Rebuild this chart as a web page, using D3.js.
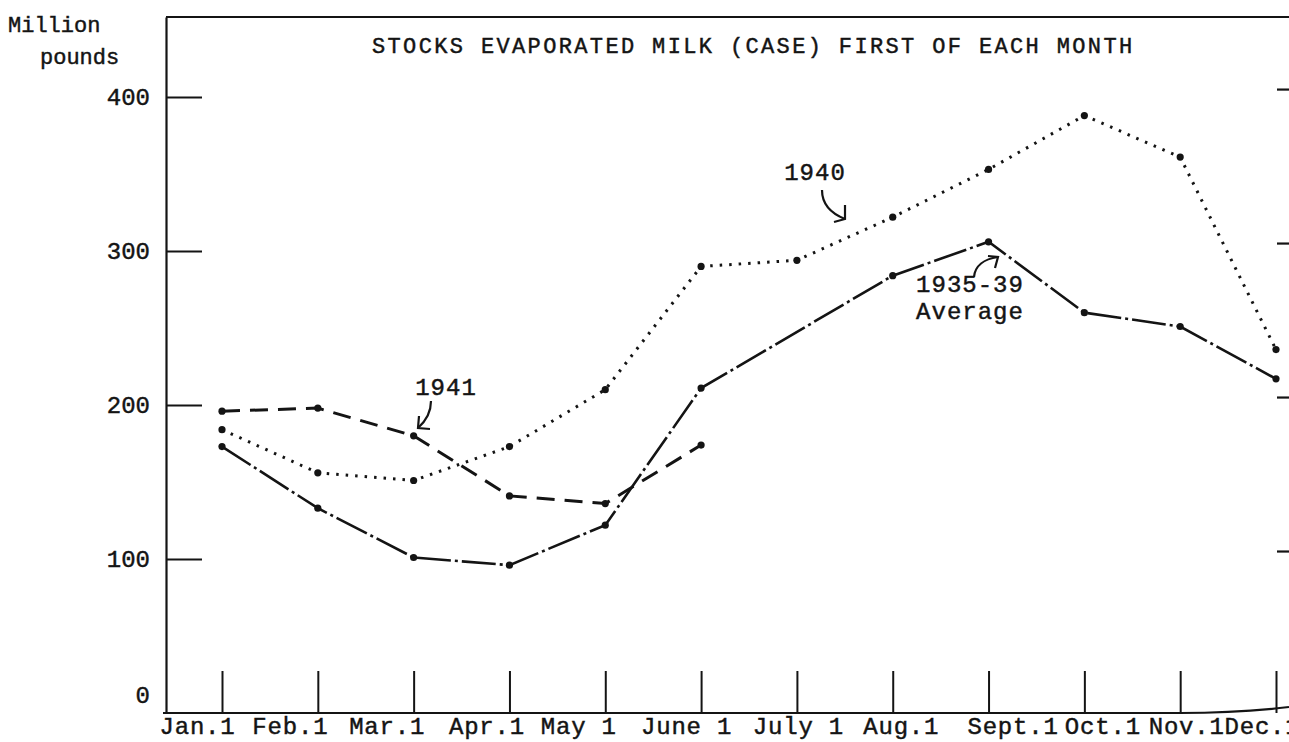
<!DOCTYPE html>
<html><head><meta charset="utf-8">
<script src="https://cdn.jsdelivr.net/npm/d3@7"></script>
<style>
html,body{margin:0;padding:0;background:#fff;}
svg{display:block;}
text{font-family:"Liberation Mono","Courier New",monospace;fill:#141414;stroke:#141414;stroke-width:0.45px;}
</style></head><body>
<svg id="chart" width="1289" height="742"></svg>
<script>
// ---- data ----
const months = ["Jan.1","Feb.1","Mar.1","Apr.1","May 1","June 1","July 1","Aug.1","Sept.1","Oct.1","Nov.1","Dec.1"];
const yTickValues = [0, 100, 200, 300, 400];
const stocks1940 = [184, 156, 151, 173, 210, 290, 294, 322, 353, 388, 361, 236];
const stocks1941 = [196, 198, 180, 141, 136, 174];
const average1935_39 = [173, 133, 101, 96, 122, 211, null, 284, 306, 260, 251, 217];
const titleText = "STOCKS EVAPORATED MILK (CASE) FIRST OF EACH MONTH";
const yLabelLines = ["Million", "pounds"];

// ---- layout (typewritten month labels are not centred on their ticks) ----
const monthLabelNudge = [-25, -28, -27, -23, -27, -15, 1, 8, 24, 18, 6, -14];

// ---- chart ----
const ink = "#141414";
const svg = d3.select("#chart");
const x = d3.scalePoint().domain(months).range([222, 1276]);
const y = d3.scaleLinear().domain([0, 452]).range([713, 17]);

// top frame line
svg.append("line").attr("x1", 166).attr("x2", 1289).attr("y1", y(452)).attr("y2", y(452))
  .attr("stroke", ink).attr("stroke-width", 2);

// left axis
const gy = svg.append("g").attr("transform", "translate(166,0)")
  .call(d3.axisLeft(y).tickValues(yTickValues).tickSizeInner(-36).tickSizeOuter(0).tickPadding(16)
    .tickFormat(d3.format("d")));
gy.select(".domain").attr("stroke", ink).attr("stroke-width", 2.2);
gy.selectAll(".tick line").attr("stroke", ink).attr("stroke-width", 2)
  .filter(d => d === 0).remove();
gy.selectAll(".tick text").attr("font-size", 24).attr("fill", ink)
  .attr("font-family", "Liberation Mono, monospace")
  .filter(d => d === 0).attr("dy", "-0.45em");

// right-edge tick stubs
const gr = svg.append("g").attr("transform", "translate(1277,-8)")
  .call(d3.axisRight(y).tickValues(yTickValues.filter(d => d > 0)).tickSize(12).tickFormat(""));
gr.select(".domain").remove();
gr.selectAll(".tick line").attr("stroke", ink).attr("stroke-width", 2.2);

// bottom axis baseline (curling up slightly at the right edge, as on the paper)
svg.append("path")
  .attr("d", `M163,${y(0)} L1180,${y(0)} Q1240,${y(0)} 1289,${y(0) - 6}`)
  .attr("fill", "none").attr("stroke", ink).attr("stroke-width", 2.2);

const gx = svg.append("g").attr("transform", `translate(0,${y(0)})`)
  .call(d3.axisBottom(x).tickSizeInner(-42).tickSizeOuter(0).tickPadding(4));
gx.select(".domain").remove();
gx.selectAll(".tick line").attr("stroke", ink).attr("stroke-width", 2);
gx.selectAll(".tick text").attr("font-size", 24).attr("letter-spacing", 0.8).attr("fill", ink)
  .attr("font-family", "Liberation Mono, monospace")
  .attr("dx", (d, i) => monthLabelNudge[i]);

// lines
const line = d3.line().x(d => x(d.m)).y(d => y(d.v));
function series(vals) {
  return vals.map((v, i) => ({ m: months[i], v })).filter(d => d.v != null);
}
const s1940 = series(stocks1940), s1941 = series(stocks1941), sAvg = series(average1935_39);

svg.append("path").datum(s1940).attr("d", line).attr("fill", "none").attr("stroke", ink)
  .attr("stroke-width", 3).attr("stroke-dasharray", "2.5,7");
svg.append("path").datum(s1941).attr("d", line).attr("fill", "none").attr("stroke", ink)
  .attr("stroke-width", 3).attr("stroke-dasharray", "18,10");
svg.append("path").datum(sAvg).attr("d", line).attr("fill", "none").attr("stroke", ink)
  .attr("stroke-width", 2.6).attr("stroke-dasharray", "34,4,3,4");

[s1940, s1941, sAvg].forEach(s => {
  svg.append("g").selectAll("circle").data(s).join("circle")
    .attr("cx", d => x(d.m)).attr("cy", d => y(d.v)).attr("r", 3.6).attr("fill", ink);
});

// title & axis label
svg.append("text").attr("x", 372).attr("y", 53).attr("font-size", 22).attr("letter-spacing", 2.36)
  .text(titleText);
svg.append("text").attr("x", 8).attr("y", 32).attr("font-size", 22).text(yLabelLines[0]);
svg.append("text").attr("x", 40).attr("y", 64).attr("font-size", 22).text(yLabelLines[1]);

// annotations
function label(txt, cx, by) {
  svg.append("text").attr("x", cx).attr("y", by).attr("text-anchor", "middle")
    .attr("font-size", 24).attr("letter-spacing", 1).text(txt);
}
function arrow(d, head) {
  svg.append("path").attr("d", d).attr("fill", "none").attr("stroke", ink).attr("stroke-width", 2.2);
  svg.append("path").attr("d", head).attr("fill", "none").attr("stroke", ink).attr("stroke-width", 2.2);
}
label("1941", 446, 395);
arrow("M431,401 C431,412 427,420 418,428", "M419,416 L418,428 L430,429");
label("1940", 815, 180);
arrow("M822,190 C822,203 830,213 845,219", "M845,205 L845,219 L834,222");
label("1935-39", 970, 292);
label("Average", 970, 319);
arrow("M974,277 C975,266 984,259 998,257", "M988,256 L998,257 L995,268");
</script>
</body></html>
